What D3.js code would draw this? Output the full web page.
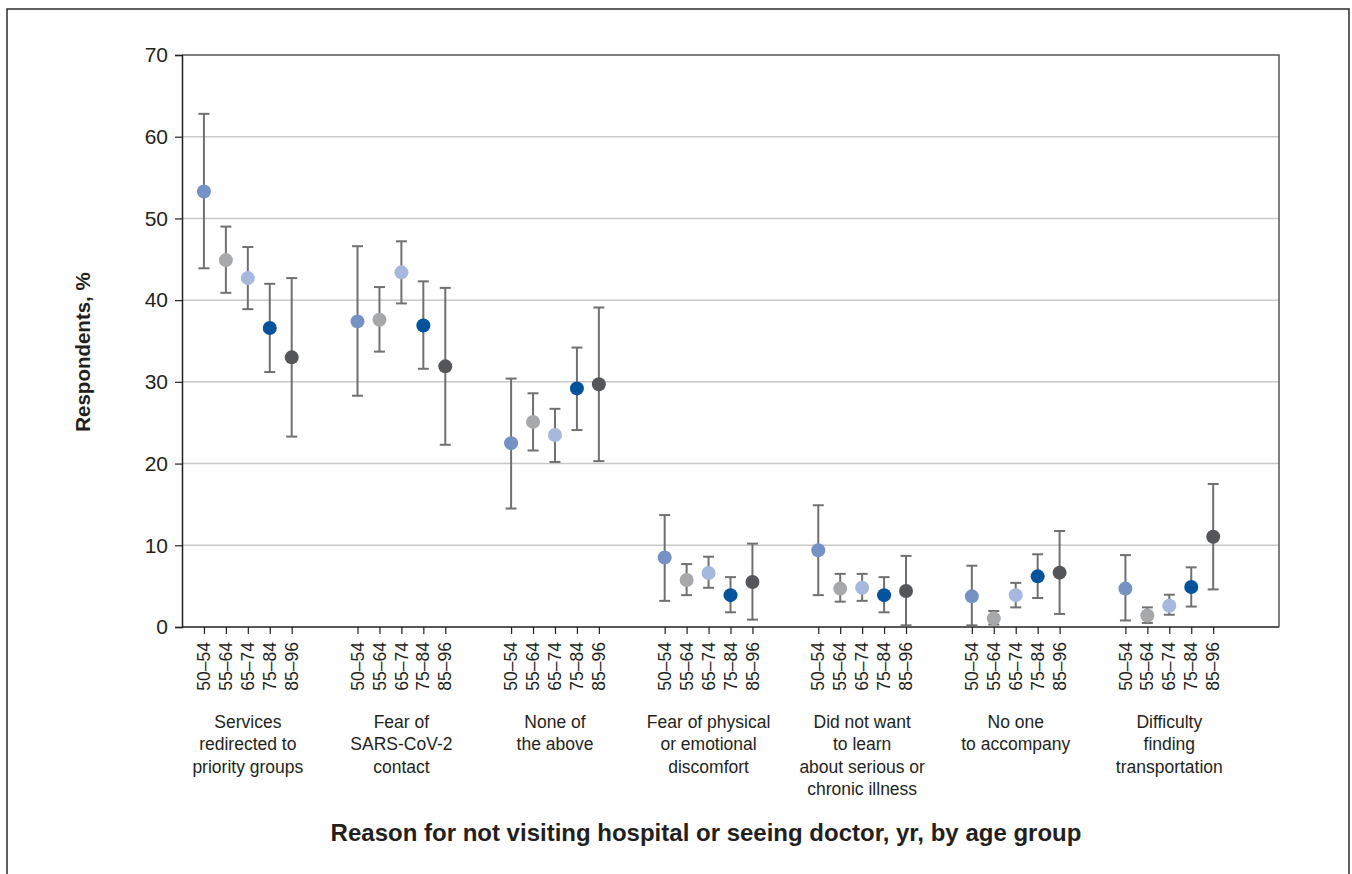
<!DOCTYPE html>
<html>
<head>
<meta charset="utf-8">
<script src="https://cdn.jsdelivr.net/npm/d3@7"></script>
<style>
  body { margin: 0; background: #fff; }
  svg text { font-family: "Liberation Sans", Arial, sans-serif; fill: #231f20; }
</style>
</head>
<body>
<svg id="chart" width="1352" height="874"></svg>
<script>
// age groups and reasons
const ageGroups = ["50–54", "55–64", "65–74", "75–84", "85–96"];
const ageColors = ["#7592c5", "#a7a8aa", "#a6b8dd", "#02529c", "#545659"];
const reasons = [
    ["Services", "redirected to", "priority groups"],
    ["Fear of", "SARS-CoV-2", "contact"],
    ["None of", "the above"],
    ["Fear of physical", "or emotional", "discomfort"],
    ["Did not want", "to learn", "about serious or", "chronic illness"],
    ["No one", "to accompany"],
    ["Difficulty", "finding", "transportation"]
];
// one row per reason, one value per age group
const estimate = [
    [53.3, 44.9, 42.7, 36.6, 33.0],
    [37.4, 37.6, 43.4, 36.9, 31.9],
    [22.5, 25.1, 23.5, 29.2, 29.7],
    [8.5, 5.75, 6.6, 3.9, 5.5],
    [9.4, 4.7, 4.8, 3.9, 4.4],
    [3.75, 1.06, 3.9, 6.2, 6.65],
    [4.7, 1.4, 2.6, 4.9, 11.05]
];
const lower = [
    [43.9, 40.9, 38.9, 31.2, 23.3],
    [28.3, 33.7, 39.6, 31.6, 22.3],
    [14.5, 21.6, 20.2, 24.1, 20.3],
    [3.2, 3.9, 4.8, 1.8, 0.9],
    [3.9, 3.1, 3.2, 1.8, 0.2],
    [0.2, 0.3, 2.4, 3.55, 1.6],
    [0.8, 0.5, 1.5, 2.5, 4.6]
];
const upper = [
    [62.8, 49.0, 46.5, 42.0, 42.7],
    [46.6, 41.6, 47.2, 42.3, 41.5],
    [30.4, 28.6, 26.7, 34.2, 39.1],
    [13.7, 7.7, 8.6, 6.1, 10.2],
    [14.9, 6.5, 6.5, 6.1, 8.7],
    [7.5, 1.96, 5.4, 8.9, 11.75],
    [8.8, 2.4, 3.95, 7.3, 17.5]
];
const yTicks = [0, 10, 20, 30, 40, 50, 60, 70];

const svg = d3.select("#chart");
const margin = {top: 55, right: 73, bottom: 247, left: 182};
const width = 1352 - margin.left - margin.right;
const height = 874 - margin.top - margin.bottom;

// outer frame
svg.append("rect")
    .attr("x", 7).attr("y", 9)
    .attr("width", 1342).attr("height", 900)
    .attr("fill", "none")
    .attr("stroke", "#2b2b2b")
    .attr("stroke-width", 1.5);

const data = [];
estimate.forEach((row, g) => {
    row.forEach((v, i) => {
        data.push({g, i, slot: g * 7 + i, v, lo: lower[g][i], hi: upper[g][i]});
    });
});

// 7 slots per reason (5 points + gap)
const x = d3.scaleLinear().domain([-1, 49]).range([0, width]);
const y = d3.scaleLinear().domain([0, 70]).range([height, 0]);

const g = svg.append("g").attr("transform", `translate(${margin.left},${margin.top})`);

// gridlines
g.append("g")
    .selectAll("line")
    .data(yTicks.filter(t => t > 0 && t < 70))
    .join("line")
    .attr("x1", 0).attr("x2", width)
    .attr("y1", d => y(d)).attr("y2", d => y(d))
    .attr("stroke", "#c8c8c8")
    .attr("stroke-width", 1.5);

// top and right border
g.append("path")
    .attr("d", `M0,0H${width}V${height}`)
    .attr("fill", "none")
    .attr("stroke", "#555")
    .attr("stroke-width", 1.5);

// y axis
const yAxis = g.append("g")
    .call(d3.axisLeft(y).tickValues(yTicks).tickSize(7).tickPadding(7));
yAxis.select(".domain").attr("stroke", "#231f20").attr("stroke-width", 1.5);
yAxis.selectAll(".tick line").attr("stroke", "#231f20").attr("stroke-width", 1.2);
yAxis.selectAll(".tick text").attr("font-size", 21).attr("fill", "#231f20");

// x axis with one tick per point
const xAxis = g.append("g")
    .attr("transform", `translate(0,${height})`)
    .call(d3.axisBottom(x).tickValues(data.map(d => d.slot)).tickSize(7).tickFormat(""));
xAxis.select(".domain").attr("stroke", "#231f20").attr("stroke-width", 1.5)
    .attr("d", `M0,0H${width}`);
xAxis.selectAll(".tick line").attr("stroke", "#231f20").attr("stroke-width", 1.2);

g.append("g")
    .selectAll("text")
    .data(data)
    .join("text")
    .attr("transform", d => `translate(${x(d.slot)},${height + 15}) rotate(-90)`)
    .attr("text-anchor", "end")
    .attr("dy", "0.35em")
    .attr("font-size", 17.5)
    .text(d => ageGroups[d.i]);

// reason labels
const rl = g.append("g")
    .selectAll("text")
    .data(reasons)
    .join("text")
    .attr("text-anchor", "middle")
    .attr("font-size", 17.5)
    .attr("transform", (d, k) => `translate(${x(k * 7 + 2)},${height + 101})`);
rl.selectAll("tspan")
    .data(d => d)
    .join("tspan")
    .attr("x", 0)
    .attr("y", (d, k) => k * 22.3)
    .text(d => d);

// error bars
const eb = g.append("g").selectAll("g").data(data).join("g")
    .attr("stroke", "#707070")
    .attr("stroke-width", 2);
eb.append("line")
    .attr("x1", d => x(d.slot)).attr("x2", d => x(d.slot))
    .attr("y1", d => y(d.lo)).attr("y2", d => y(d.hi));
eb.append("line")
    .attr("x1", d => x(d.slot) - 5.5).attr("x2", d => x(d.slot) + 5.5)
    .attr("y1", d => y(d.hi)).attr("y2", d => y(d.hi));
eb.append("line")
    .attr("x1", d => x(d.slot) - 5.5).attr("x2", d => x(d.slot) + 5.5)
    .attr("y1", d => y(d.lo)).attr("y2", d => y(d.lo));

// points
g.append("g")
    .selectAll("circle")
    .data(data)
    .join("circle")
    .attr("cx", d => x(d.slot))
    .attr("cy", d => y(d.v))
    .attr("r", 7)
    .attr("fill", d => ageColors[d.i]);

// axis titles
svg.append("text")
    .attr("transform", `translate(90,${margin.top + height / 2 + 11}) rotate(-90)`)
    .attr("text-anchor", "middle")
    .attr("font-size", 20.5)
    .attr("font-weight", "bold")
    .text("Respondents, %");

svg.append("text")
    .attr("x", 706)
    .attr("y", 841)
    .attr("text-anchor", "middle")
    .attr("font-size", 24)
    .attr("font-weight", "bold")
    .text("Reason for not visiting hospital or seeing doctor, yr, by age group");
</script>
</body>
</html>
